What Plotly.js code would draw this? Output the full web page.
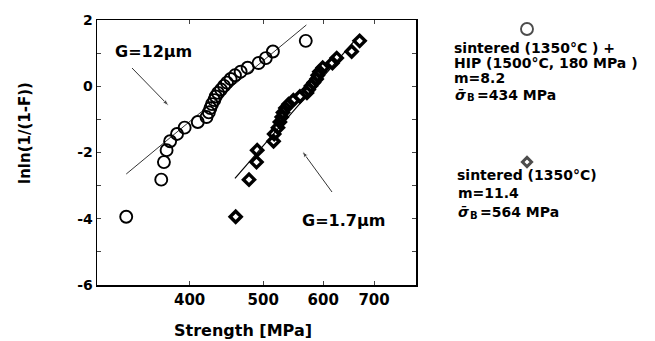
<!DOCTYPE html>
<html>
<head>
<meta charset="utf-8">
<script src="https://cdn.plot.ly/plotly-3.0.1.min.js"></script>
<style>html,body{margin:0;padding:0;background:#fff;}#chart{width:655px;height:341px;}</style>
</head>
<body>
<div id="chart"></div>
<script>
// Sintered (1350°C) + HIP (1500°C, 180 MPa) — open circles
const hipStrength = [330,367,370,373,377,385,394,410,421,424,426,428,431,433,436,440,444,448,453,459,467,477,493,504,515,569];
const hipLnLn     = [-3.94,-2.82,-2.29,-1.93,-1.66,-1.44,-1.25,-1.08,-0.93,-0.79,-0.66,-0.54,-0.42,-0.31,-0.20,-0.10,0.01,0.11,0.22,0.33,0.44,0.56,0.70,0.85,1.05,1.37];
// Sintered (1350°C) — diamonds
const sinStrength = [460,479,490,491,516,517,523,526,529,531,535,540,548,559,571,574,578,583,588,590,593,599,617,625,654,670];
const sinLnLn     = [-3.94,-2.82,-2.29,-1.93,-1.66,-1.44,-1.25,-1.08,-0.93,-0.79,-0.66,-0.54,-0.42,-0.31,-0.20,-0.10,0.01,0.11,0.22,0.33,0.44,0.56,0.70,0.85,1.05,1.37];
// Weibull fit lines (end points)
const hipFitX = [330,570];
const hipFitY = [-2.65,1.85];
const sinFitX = [459,670];
const sinFitY = [-2.78,1.55];
// Axis ticks
const xTickVals = [400,500,600,700];
const xTickText = ['400','500','600','700'];
const yTickVals = [-6,-4,-2,0,2];
const yTickText = ['-6','-4','-2','0','2'];

const FONT = 'DejaVu Sans, Liberation Sans, Arial, sans-serif';
const W = 655, H = 341;
const L = 97, R = 416, T = 20, B = 285;   // plot frame in pixels

const traces = [
  {x:hipFitX, y:hipFitY, mode:'lines', line:{color:'#000', width:0.8}, hoverinfo:'skip'},
  {x:sinFitX, y:sinFitY, mode:'lines', line:{color:'#000', width:1.2}, hoverinfo:'skip'},
  {x:hipStrength, y:hipLnLn, mode:'markers', name:'sintered + HIP',
   marker:{symbol:'circle-open', size:12, color:'#000', line:{color:'#000', width:1.9}}},
  {x:sinStrength, y:sinLnLn, mode:'markers', name:'sintered',
   marker:{symbol:'diamond-open', size:8.5, color:'#000', line:{color:'#000', width:3.4}}},
  // key symbols (figure-pixel overlay)
  {x:[527, 527], y:[29, 162], xaxis:'x2', yaxis:'y2', mode:'markers', hoverinfo:'skip',
   marker:{symbol:['circle-open','diamond-open'], size:[12,7], color:'#000', line:{color:'#000', width:[1.9,3]}}},
  // pointer arrows (figure-pixel overlay)
  {x:[132, 169], y:[68, 106], xaxis:'x2', yaxis:'y2', mode:'lines+markers', hoverinfo:'skip',
   line:{color:'#000', width:0.8}, marker:{symbol:['circle','arrow'], size:[0,7], angleref:'previous', color:'#000'}},
  {x:[332, 302], y:[192, 151], xaxis:'x2', yaxis:'y2', mode:'lines+markers', hoverinfo:'skip',
   line:{color:'#000', width:0.8}, marker:{symbol:['circle','arrow'], size:[0,7], angleref:'previous', color:'#000'}}
];

function txt(text, px, py, size, anchor, angle){
  return {xref:'paper', yref:'paper', x:px/W, y:1-py/H, text:text, showarrow:false, textangle:angle||0,
    xanchor:anchor||'left', yanchor:'middle', font:{family:FONT, size:size||14, color:'#000', weight:'bold'}};
}

const annotations = [
  txt('lnln(1/(1-F))', 25, 133, 15, 'center', -90),
  txt('Strength [MPa]', 243, 330, 16, 'center'),
  txt('G=12μm', 153, 52, 16, 'center'),
  txt('G=1.7μm', 343, 220, 16, 'center'),
  txt('sintered (1350°C ) +', 452, 48),
  txt('HIP (1500°C, 180 MPa )', 452, 63),
  txt('m=8.2', 452, 78),
  txt('<i>σ̄</i>', 453, 95),
  txt('B', 465, 98, 10),
  txt('=434 MPa', 475, 95),
  txt('sintered (1350°C)', 455, 175),
  txt('m=11.4', 456, 193),
  txt('<i>σ̄</i>', 456, 212),
  txt('B', 468, 215, 10),
  txt('=564 MPa', 478, 212)
];

const layout = {
  width:W, height:H,
  margin:{l:0, r:0, t:0, b:0, pad:0},
  paper_bgcolor:'#fff', plot_bgcolor:'rgba(0,0,0,0)',
  font:{family:FONT, color:'#000'},
  showlegend:false,
  xaxis:{type:'log', range:[Math.log10(302), Math.log10(795)], domain:[L/W, R/W], anchor:'y',
    tickvals:xTickVals, ticktext:xTickText, ticks:'inside', ticklen:4, tickwidth:1,
    showline:true, linecolor:'#000', linewidth:1.5, mirror:'ticks', showgrid:false, zeroline:false,
    tickfont:{family:FONT, size:15, weight:'bold'}},
  yaxis:{range:[-6,2], domain:[1-B/H, 1-T/H], anchor:'x',
    tickvals:yTickVals, ticktext:yTickText, ticks:'inside', ticklen:4, tickwidth:1,
    showline:true, linecolor:'#000', linewidth:1.5, mirror:'ticks', showgrid:false, zeroline:false,
    tickfont:{family:FONT, size:14, weight:'bold'},
    minor:{dtick:1, ticks:'inside', ticklen:4, tickwidth:1, showgrid:false}},
  xaxis2:{domain:[0,1], range:[0,W], anchor:'y2', visible:false, fixedrange:true},
  yaxis2:{domain:[0,1], range:[H,0], anchor:'x2', visible:false, fixedrange:true},
  annotations:annotations
};

Plotly.newPlot('chart', traces, layout, {displayModeBar:false, staticPlot:true});
</script>
</body>
</html>
